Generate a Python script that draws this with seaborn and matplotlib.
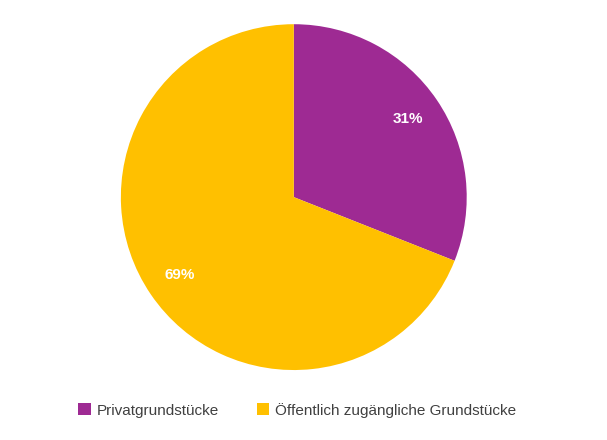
import matplotlib
matplotlib.use("Agg")
import matplotlib.pyplot as plt
import seaborn as sns

sns.set_theme(style="white")
plt.rcParams['font.family'] = ['Liberation Sans', 'DejaVu Sans']

categories = ["Privatgrundstücke", "Öffentlich zugängliche Grundstücke"]
values = [31, 69]
colors = ["#9E2A93", "#FFC000"]

fig = plt.figure(figsize=(6.07, 4.40), dpi=100)
ax = fig.add_axes([0.199, 0.159, 0.570, 0.786])
wedges, texts, autotexts = ax.pie(values, colors=colors, startangle=90, counterclock=False,
                                  autopct='%1.0f%%', pctdistance=0.8,
                                  wedgeprops=dict(linewidth=0),
                                  textprops=dict(color='white', fontsize=11, fontweight='bold'))
ax.set_xlim(-1, 1)
ax.set_ylim(-1, 1)
ax.set_aspect('equal')
fig.legend(wedges, categories, loc='center', bbox_to_anchor=(0.49, 0.068), ncol=2,
           frameon=False, fontsize=11, handlelength=0.8, handleheight=0.8,
           handletextpad=0.4, columnspacing=2.5, labelcolor='#404040')
fig.savefig("out.png", dpi=100)
